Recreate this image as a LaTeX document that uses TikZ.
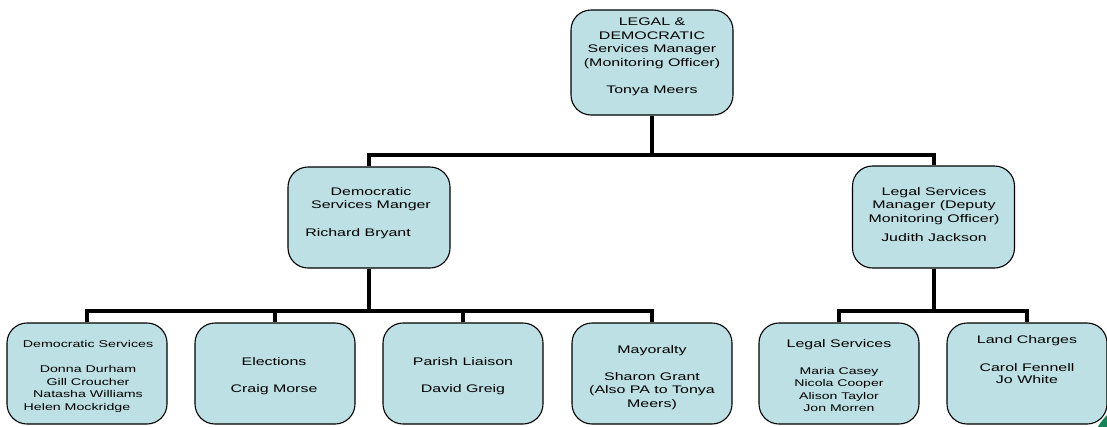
\documentclass[tikz,border=0pt]{standalone}
\usepackage{fontspec}
\setmainfont{Liberation Sans}[FakeStretch=1.45]
\definecolor{boxfill}{RGB}{188,224,228}
\definecolor{cornergreen}{RGB}{22,132,88}

\begin{document}
\begin{tikzpicture}[x=1pt,y=-1pt,
  unit/.style={draw=black, line width=1.1pt, fill=boxfill, rounded corners=20pt,
               minimum width=162pt, minimum height=101pt, inner sep=0pt},
  caption/.style={align=center, inner sep=0pt, font=\fontsize{11}{13.7}\selectfont},
  small/.style={align=center, inner sep=0pt, font=\fontsize{9.8}{12.6}\selectfont},
  names/.style={align=center, inner sep=0pt, font=\fontsize{9.7}{12.3}\selectfont},
  link/.style={line width=4pt, draw=black}]
\clip (0,0) rectangle (1107,426);

% corner ornament behind the last box
\fill[cornergreen] (1140,450) circle (48pt);

% boxes
\node[unit, minimum height=105pt] (head) at (652,62.5) {};
\node[unit] (dsm) at (369,217.5) {};
\node[unit, minimum height=102pt] (lsm) at (933.5,217) {};
\node[unit, minimum width=160pt] (ds) at (87,373.5) {};
\node[unit, minimum width=160pt] (el) at (275,373.5) {};
\node[unit, minimum width=160pt] (pl) at (463,373.5) {};
\node[unit, minimum width=160pt] (my) at (652,373.5) {};
\node[unit, minimum width=160pt] (ls) at (839,373.5) {};
\node[unit, minimum width=160pt] (lc) at (1027,373.5) {};

% texts
\node[caption] (headtxt) at (652,57) {LEGAL \&\\DEMOCRATIC\\Services Manager\\(Monitoring Officer)\\[13.7pt]Tonya Meers};
\node[caption] (dsmtxt) at (371,213) {Democratic\\Services Manger\\[14.3pt]Richard Bryant\hspace*{26pt}};
\node[caption] (lsmtxt) at (934,214.5) {Legal Services\\Manager (Deputy\\Monitoring Officer)\\[5.5pt]Judith Jackson};
\node[small] (dstxt) at (88,376.5) {Democratic Services\\[12.4pt]Donna Durham\\Gill Croucher\\Natasha Williams\\Helen Mockridge\hspace*{22pt}};
\node[caption] (eltxt) at (274,376) {Elections\\[14pt]Craig Morse};
\node[caption] (pltxt) at (463,376.5) {Parish Liaison\\[13.3pt]David Greig};
\node[caption] (mytxt) at (652,377.5) {Mayoralty\\[13.3pt]Sharon Grant\\(Also PA to Tonya\\Meers)};
\node[caption] (lstitle) at (839,345) {Legal Services};
\node[names] (lsnames) at (839,389.5) {Maria Casey\\Nicola Cooper\\Alison Taylor\\Jon Morren};
\node[caption] (lctxt) at (1027,360) {Land Charges\\[14pt]Carol Fennell\\[-1.5pt]Jo White};

% reporting lines
\coordinate (bus0) at (652,155);
\coordinate (bus1) at (369,311);
\coordinate (bus2) at (933.5,311);
\draw[link] (head.south) -- (bus0);
\draw[link] (dsm.north) |- (bus0) -| (lsm.north);
\draw[link] (dsm.south) -- (bus1);
\draw[link] (ds.north) |- (bus1) -| (my.north);
\draw[link] (el.north) -- (el.north |- bus1);
\draw[link] (pl.north) -- (pl.north |- bus1);
\draw[link] (lsm.south) -- (bus2);
\draw[link] (ls.north) |- (bus2) -| (lc.north);
\end{tikzpicture}
\end{document}
